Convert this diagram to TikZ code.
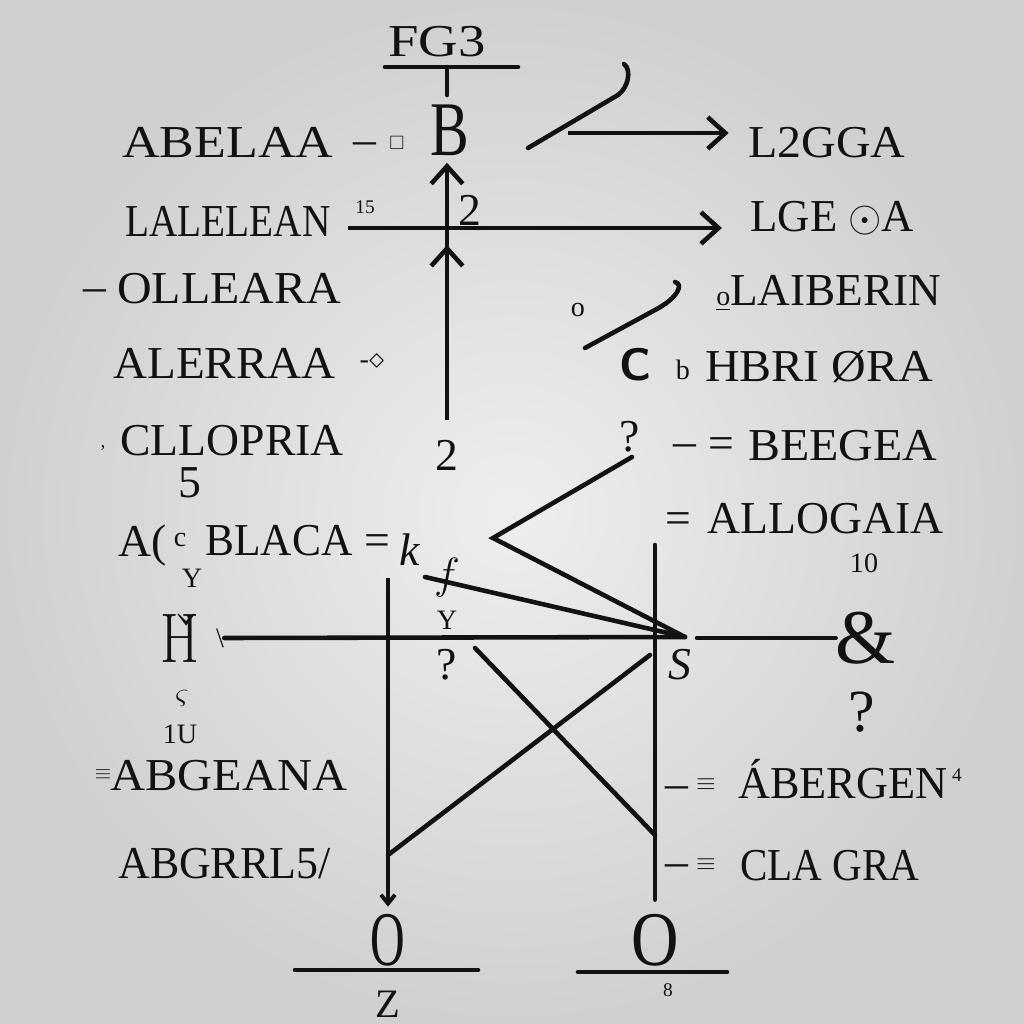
\documentclass[tikz,border=0pt]{standalone}
\usepackage{fontspec}
\usepackage{amsmath,amssymb}
\setmainfont{Liberation Serif}
\newfontfamily\lmfont{Latin Modern Roman}
\usetikzlibrary{arrows.meta}
\definecolor{bgcentre}{RGB}{238,238,238}
\definecolor{bgedge}{RGB}{208,208,208}
\definecolor{ink}{RGB}{18,18,18}
\newcommand{\sq}[2]{\scalebox{#1}[1]{#2}}

\begin{document}
\begin{tikzpicture}[x=0.02cm, y=-0.02cm,
		word/.style={font=\fontsize{26}{28}\selectfont, inner sep=0pt, anchor=base west, text=ink},
		glyph/.style={font=\fontsize{26}{28}\selectfont, inner sep=0pt, text=ink},
		smallglyph/.style={font=\fontsize{16}{18}\selectfont, inner sep=0pt, text=ink},
		tinyglyph/.style={font=\fontsize{11}{12}\selectfont, inner sep=0pt, text=ink},
		bigglyph/.style={font=\fontsize{44}{46}\selectfont, inner sep=0pt, text=ink},
		wire/.style={draw=ink, line width=2.6pt, line cap=round},
		arrow/.style={-{Straight Barb[length=10pt,width=18pt]}, draw=ink, line width=2.6pt},
		arrowsm/.style={-{Straight Barb[length=5pt,width=8pt]}, draw=ink, line width=2.2pt}
	]
	% Canvas
	\shade[inner color=bgcentre, outer color=bgedge] (0,0) rectangle (1024,1024);
	\useasboundingbox (0,0) rectangle (1024,1024);
	
	% Left column: labels
	\node[word] (abelaa) at (122,157) {\sq{1.14}{ABELAA}};
	\node[word] (dashone) at (353,154) {–};
	\node[tinyglyph] (sqr) at (397,143) {$\square$};
	\node[word] (lalelean) at (125,236) {\sq{0.86}{LALELEAN}};
	\node[tinyglyph] (fifteen) at (365,207) {15};
	\node[word] (dashtwo) at (83,301) {–};
	\node[word] (olleara) at (117,303) {\sq{1.05}{OLLEARA}};
	\node[word] (alerraa) at (113,378) {\sq{1.03}{ALERRAA}};
	\node[smallglyph] (pin) at (372,362) {-$\diamond$};
	\node[tinyglyph] (tick) at (103,448) {,};
	\node[word] (cllopria) at (120,455) {CLLOPRIA};
	\node[glyph] (five) at (190,483) {5};
	\node[word] (alpha) at (118,556) {A(};
	\node[smallglyph] (curl) at (180,540) {c};
	\node[word] (blaca) at (205,555) {\sq{0.95}{BLACA}};
	\node[word] (eqone) at (364,555) {=};
	\node[smallglyph] (yone) at (192,578) {Y};
	\node[bigglyph, font=\fontsize{40}{42}\selectfont\lmfont] (hglyph) at (180,638) {\sq{0.8}{\v{H}}};
	\node[smallglyph] (bslash) at (220,638) {\textbackslash};
	\node[smallglyph] (sigma) at (182,698) {$\varsigma$};
	\node[smallglyph] (oneu) at (180,734) {1U};
	\node[tinyglyph, font=\fontsize{13}{14}\selectfont] (eqsix) at (103,775) {$\equiv$};
	\node[word] (abgeana) at (110,790) {\sq{1.06}{ABGEANA}};
	\node[word] (abgrrl) at (118,878) {\sq{0.96}{ABGRRL5/}};
	
	% Right column: labels
	\node[word] (l2gga) at (748,157) {\sq{1.05}{L2GGA}};
	\node[word] (lge) at (750,231) {\sq{0.98}{LGE $\odot$A}};
	\node[word] (laiberin) at (716,305) {\sq{0.99}{{\fontsize{16}{16}\selectfont\underline{o}}LAIBERIN}};
	\node[smallglyph] (ohole) at (578,310) {o};
	\node[glyph, font=\fontsize{26}{28}\selectfont\sffamily\bfseries] (cee) at (636,365) {C};
	\node[smallglyph] (smallb) at (683,370) {b};
	\node[word] (hbri) at (705,381) {\sq{1.05}{HBRI ØRA}};
	\node[glyph] (qone) at (630,437) {?};
	\node[word] (dashthree) at (673,456) {–};
	\node[word] (eqtwo) at (708,458) {=};
	\node[word] (beegea) at (748,460) {\sq{1.05}{BEEGEA}};
	\node[word] (eqthree) at (665,533) {=};
	\node[word] (allogaia) at (707,533) {ALLOGAIA};
	\node[smallglyph] (ten) at (864,563) {10};
	\node[bigglyph] (amp) at (866,638) {\&};
	\node[glyph, font=\fontsize{34}{36}\selectfont] (qtwo) at (862,712) {?};
	\node[glyph] (ess) at (680,665) {\textit{S}};
	\node[word] (dashfour) at (665,798) {–};
	\node[glyph, font=\fontsize{14}{16}\selectfont] (eqfour) at (706,785) {$\equiv$};
	\node[word] (abergen) at (738,798) {\sq{0.97}{ÁBERGEN}};
	\node[tinyglyph] (four) at (957,775) {4};
	\node[word] (dashfive) at (665,876) {–};
	\node[glyph, font=\fontsize{14}{16}\selectfont] (eqfive) at (706,865) {$\equiv$};
	\node[word] (clagra) at (740,880) {\sq{0.9}{CLA GRA}};
	
	% Centre: spine and glyphs
	\node[glyph] (fgthree) at (437,42) {\sq{1.2}{FG3}};
	\draw[wire] (385,67) -- (518,67);
	\draw[wire] (447,67) -- (447,95);
	\node[bigglyph] (bee) at (450,130) {\sq{0.75}{B}};
	\node[glyph] (twoa) at (470,210) {2};
	\node[glyph] (twob) at (447,455) {2};
	\node[glyph] (kay) at (410,550) {\textit{k}};
	\node[glyph] (eff) at (447,578) {$f$};
	\node[smallglyph] (ytwo) at (447,620) {Y};
	\node[glyph] (qthree) at (447,665) {?};
	
	% Bottom: circles
	\node[bigglyph] (oleft) at (388,940) {\sq{0.62}{O}};
	\node[bigglyph] (oright) at (655,940) {\sq{0.85}{O}};
	\draw[wire] (295,970) -- (478,970);
	\draw[wire] (578,972) -- (727,972);
	\node[glyph, font=\fontsize{23}{24}\selectfont] (zed) at (388,1004) {Z};
	\node[tinyglyph] (eight) at (668,990) {8};
	
	% Connectors
	\coordinate (arrowstart) at (568,133);
	\draw[arrow, shorten >=11pt] (arrowstart) -- (arrowstart -| l2gga.west);
	\draw[wire] (528,148) -- (618,95) .. controls (628,88) and (632,70) .. (624,64);
	
	\coordinate (spinemid) at (447,245);
	\draw[arrow, shorten <=11pt, shorten >=4pt] (twob.north) -- (bee.south -| twob.north);
	\draw[arrow, shorten <=11pt] (twob.north) -- (spinemid);
	
	\coordinate (barstart) at (348,228);
	\draw[arrow, shorten >=16pt] (barstart) -- (barstart -| lge.west);
	
	\draw[wire] (585,348) -- (655,310) .. controls (678,298) and (684,284) .. (675,282);
	
	% V and fan into the hub
	\coordinate (vtop) at (632,457);
	\coordinate (apex) at (493,538);
	\coordinate (hub) at (685,637);
	\coordinate (kfoot) at (425,577);
	\coordinate (hubright) at (697,638);
	\draw[wire] (vtop) -- (apex) -- (hub);
	\draw[wire] (kfoot) -- (hub);
	\draw[wire] (bslash.east) -- (hub);
	\draw[wire] (hubright) -- (hubright -| amp.west);
	
	% Verticals and cross
	\coordinate (lefttop) at (388,578);
	\coordinate (righttop) at (655,545);
	\draw[arrowsm, shorten >=4pt] (lefttop) -- (oleft.north);
	\draw[wire, shorten >=8pt] (righttop) -- (oright.north);
	\coordinate (xa) at (475,648);
	\coordinate (xb) at (655,835);
	\coordinate (xc) at (388,855);
	\coordinate (xd) at (650,655);
	\draw[wire] (xa) -- (xb);
	\draw[wire] (xc) -- (xd);
\end{tikzpicture}
\end{document}
